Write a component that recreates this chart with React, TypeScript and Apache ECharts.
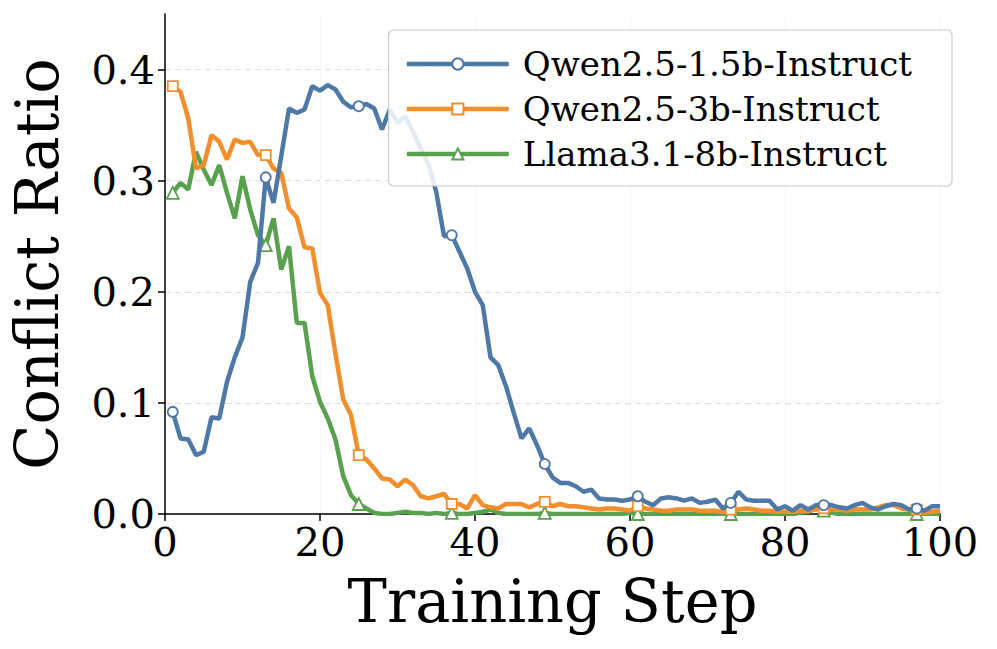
import React, { useEffect, useRef } from "react";
import * as echarts from "echarts";

const steps: number[] = Array.from({ length: 100 }, (_, i) => i + 1);

const seriesNames = ["Qwen2.5-1.5b-Instruct", "Qwen2.5-3b-Instruct", "Llama3.1-8b-Instruct"];

const qwen15b: number[] = [
  0.092, 0.068, 0.067, 0.053, 0.056, 0.087, 0.086, 0.119, 0.141, 0.159,
  0.209, 0.226, 0.303, 0.280, 0.322, 0.365, 0.361, 0.364, 0.385, 0.381,
  0.386, 0.382, 0.371, 0.366, 0.367, 0.369, 0.365, 0.346, 0.364, 0.352,
  0.358, 0.344, 0.329, 0.315, 0.290, 0.250, 0.251, 0.236, 0.221, 0.200,
  0.188, 0.141, 0.134, 0.115, 0.091, 0.068, 0.077, 0.062, 0.045, 0.033,
  0.028, 0.028, 0.025, 0.020, 0.022, 0.014, 0.013, 0.013, 0.012, 0.013,
  0.016, 0.011, 0.008, 0.014, 0.015, 0.014, 0.012, 0.014, 0.010, 0.011,
  0.013, 0.005, 0.010, 0.020, 0.013, 0.012, 0.012, 0.012, 0.004, 0.007,
  0.003, 0.008, 0.004, 0.008, 0.008, 0.008, 0.006, 0.005, 0.008, 0.010,
  0.006, 0.004, 0.007, 0.009, 0.008, 0.004, 0.005, 0.003, 0.007, 0.007,
];

const qwen3b: number[] = [
  0.385, 0.380, 0.356, 0.311, 0.314, 0.341, 0.335, 0.319, 0.337, 0.334,
  0.335, 0.323, 0.323, 0.311, 0.307, 0.275, 0.267, 0.240, 0.239, 0.199,
  0.188, 0.144, 0.103, 0.089, 0.053, 0.049, 0.041, 0.032, 0.031, 0.025,
  0.031, 0.026, 0.016, 0.014, 0.016, 0.018, 0.009, 0.009, 0.005, 0.017,
  0.008, 0.006, 0.005, 0.009, 0.009, 0.009, 0.006, 0.009, 0.011, 0.007,
  0.009, 0.007, 0.007, 0.006, 0.005, 0.004, 0.005, 0.005, 0.004, 0.003,
  0.007, 0.005, 0.004, 0.003, 0.003, 0.004, 0.004, 0.004, 0.003, 0.003,
  0.003, 0.002, 0.004, 0.004, 0.005, 0.004, 0.003, 0.003, 0.002, 0.002,
  0.002, 0.003, 0.003, 0.004, 0.005, 0.004, 0.004, 0.003, 0.004, 0.004,
  0.004, 0.006, 0.008, 0.008, 0.005, 0.004, 0.004, 0.001, 0.002, 0.003,
];

const llama8b: number[] = [
  0.289, 0.298, 0.292, 0.326, 0.310, 0.296, 0.314, 0.289, 0.266, 0.304,
  0.274, 0.251, 0.242, 0.266, 0.220, 0.241, 0.172, 0.172, 0.124, 0.101,
  0.086, 0.067, 0.034, 0.017, 0.009, 0.005, 0.001, 0.000, 0.000, 0.001,
  0.002, 0.001, 0.001, 0.000, 0.001, 0.000, 0.001, 0.000, 0.000, 0.001,
  0.002, 0.004, 0.001, 0.000, 0.000, 0.000, 0.000, 0.000, 0.001, 0.000,
  0.000, 0.000, 0.000, 0.000, 0.000, 0.000, 0.000, 0.000, 0.000, 0.001,
  0.000, 0.000, 0.000, 0.000, 0.000, 0.000, 0.000, 0.000, 0.000, 0.000,
  0.000, 0.000, 0.000, 0.000, 0.000, 0.000, 0.000, 0.000, 0.000, 0.000,
  0.000, 0.001, 0.002, 0.005, 0.003, 0.001, 0.000, 0.000, 0.000, 0.000,
  0.000, 0.000, 0.000, 0.000, 0.000, 0.000, 0.000, 0.000, 0.000, 0.000,
];

const yTicks: number[] = [0, 0.1, 0.2, 0.3, 0.4];
const xTicks: number[] = [0, 20, 40, 60, 80, 100];

const colors = ["#4e79a7", "#f28e2b", "#59a14f"];
const symbols = ["circle", "rect", "triangle"];
const FONT = "DejaVu Serif";

export default function App() {
  const ref = useRef<HTMLDivElement>(null);
  useEffect(() => {
    if (!ref.current) return;
    const chart = echarts.init(ref.current, null, { renderer: "svg" });
    const allData = [qwen15b, qwen3b, llama8b];
    const series = allData.map((vals, k) => ({
      name: seriesNames[k],
      type: "line",
      data: vals.map((v, i) =>
        i % 12 === 0 ? { value: [steps[i], v] } : { value: [steps[i], v], symbol: "none" }
      ),
      showAllSymbol: true,
      symbol: symbols[k],
      symbolSize: k === 2 ? 12 : 10,
      lineStyle: { color: colors[k], width: 4.5 },
      itemStyle: { color: "#ffffff", borderColor: colors[k], borderWidth: 1.8 },
      emphasis: { disabled: true },
      z: 3 - k,
    }));
    chart.setOption({
      animation: false,
      grid: { left: 162, right: 57, top: 14, bottom: 135 },
      legend: {
        orient: "vertical",
        right: 45,
        top: 30,
        padding: [17, 40, 15, 16],
        itemGap: 11,
        itemWidth: 102,
        itemHeight: 14,
        backgroundColor: "rgba(255,255,255,0.85)",
        borderColor: "#cccccc",
        borderWidth: 1.2,
        borderRadius: 5,
        lineStyle: { width: 4.5 },
        textStyle: { fontFamily: FONT, fontSize: 34, color: "#000", padding: [0, 0, 0, 9] },
        data: seriesNames,
      },
      xAxis: {
        type: "value",
        min: 0,
        max: 100,
        interval: 20,
        name: "Training Step",
        nameLocation: "middle",
        nameGap: 58,
        nameTextStyle: { fontFamily: FONT, fontSize: 59, color: "#000" },
        axisLine: { onZero: false, lineStyle: { color: "#000", width: 1.5 } },
        axisTick: { show: true, length: 7, lineStyle: { color: "#000", width: 1.5 }, customValues: xTicks },
        axisLabel: { fontFamily: FONT, fontSize: 40, color: "#000", margin: 8, customValues: xTicks },
        splitLine: { show: true, lineStyle: { color: "#eeeeee", type: "dotted", width: 1 } },
      },
      yAxis: {
        type: "value",
        min: 0,
        max: 0.45,
        interval: 0.1,
        name: "Conflict Ratio",
        nameLocation: "middle",
        nameGap: 98,
        nameTextStyle: { fontFamily: FONT, fontSize: 59, color: "#000" },
        axisLine: { show: true, onZero: false, lineStyle: { color: "#000", width: 1.5 } },
        axisTick: { show: true, length: 7, lineStyle: { color: "#000", width: 1.5 }, customValues: yTicks },
        axisLabel: {
          fontFamily: FONT,
          fontSize: 40,
          color: "#000",
          margin: 10,
          customValues: yTicks,
          formatter: (v: number) => v.toFixed(1),
        },
        splitLine: { show: true, lineStyle: { color: "#dddddd", type: [6, 4], width: 1 } },
      },
      series,
    });
    return () => chart.dispose();
  }, []);
  return <div ref={ref} style={{ width: 997, height: 649, margin: -8 }} />;
}
